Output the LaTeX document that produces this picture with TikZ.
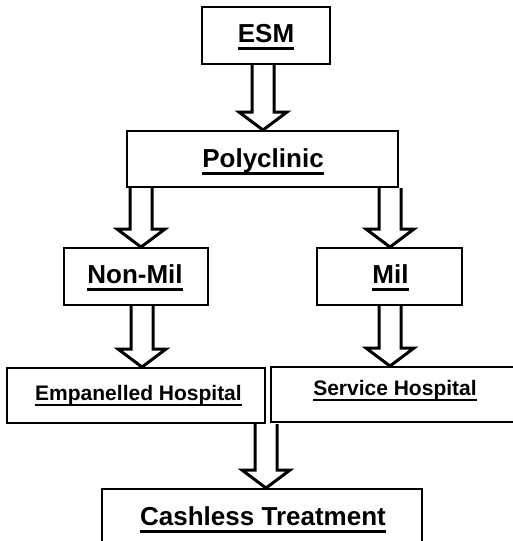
\documentclass[tikz,border=0pt]{standalone}
\usepackage{fontspec}
\setmainfont{Liberation Sans}
\usetikzlibrary{calc}
\newcommand{\myul}[1]{\setbox0=\hbox{#1}\leavevmode\rlap{\rule[-0.29em]{\wd0}{0.11em}}\box0}
\newcommand{\barrow}[3]{%
  \path let \p1=(#1.south), \p2=(#2.north) in
  [draw,fill=white,line width=3pt,line join=miter,miter limit=10]
  (#3pt-11pt,\y1) -- (#3pt-11pt,\y2+18pt) -- (#3pt-24pt,\y2+18pt) -- (#3pt,\y2)
  -- (#3pt+24pt,\y2+18pt) -- (#3pt+11pt,\y2+18pt) -- (#3pt+11pt,\y1);}
\tikzset{
  boxx/.style={draw,line width=2pt,rectangle,inner sep=0pt},
  lblbig/.style={anchor=base,inner sep=0pt,font=\bfseries\fontsize{26}{30}\selectfont},
  lblsm/.style={anchor=base,inner sep=0pt,font=\bfseries\fontsize{21}{25}\selectfont}
}
\begin{document}
\begin{tikzpicture}[x=1pt,y=-1pt]
\useasboundingbox (0,0) rectangle (513,541);
\clip (0,0) rectangle (513,541);
\fill[white] (0,0) rectangle (513,541);
% boxes
\node[boxx,minimum width=128pt,minimum height=57pt] (esm) at (266,35.5) {};
\node[boxx,minimum width=271pt,minimum height=56pt] (poly) at (262.5,159) {};
\node[boxx,minimum width=144pt,minimum height=57pt] (nonmil) at (136,276.5) {};
\node[boxx,minimum width=145pt,minimum height=57pt] (mil) at (389.5,276.5) {};
\node[boxx,minimum width=258pt,minimum height=55pt] (emp) at (136,395.5) {};
\node[boxx,minimum width=248pt,minimum height=55pt] (serv) at (395,394.5) {};
\node[boxx,minimum width=320pt,minimum height=72pt] (cash) at (262,525) {};
% texts
\node[lblbig] (esmt) at (266,42) {\myul{ESM}};
\node[lblbig] (polyt) at (263,167) {\myul{Polyclinic}};
\node[lblbig] (nonmilt) at (135,283) {\myul{Non-Mil}};
\node[lblbig] (milt) at (390.5,283) {\myul{Mil}};
\node[lblsm] (empt) at (138.5,400) {\myul{Empanelled Hospital}};
\node[lblsm] (servt) at (395,395) {\myul{Service Hospital}};
\node[lblbig] (casht) at (263,525) {\myul{Cashless Treatment}};
% block arrows
\barrow{esm}{poly}{263}
\barrow{poly}{nonmil}{141}
\barrow{poly}{mil}{390}
\barrow{nonmil}{emp}{142}
\barrow{mil}{serv}{390}
\barrow{emp}{cash}{266}
\end{tikzpicture}
\end{document}
